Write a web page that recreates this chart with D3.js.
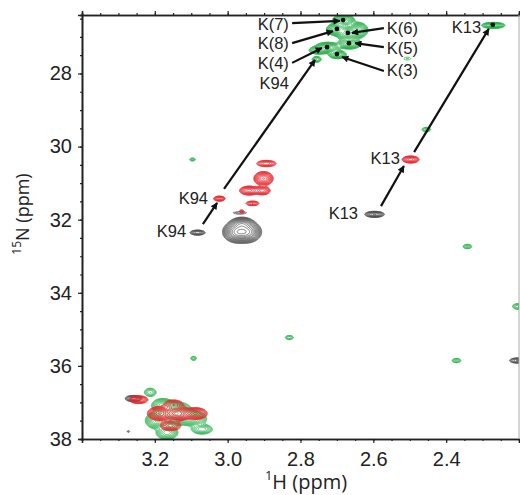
<!DOCTYPE html>
<html lang="en">
<head>
<meta charset="UTF-8">
<title>1H-15N lysine spectrum</title>
<style>
  body { margin: 0; background: #fff; }
  svg { font-family: 'Open Sans', 'Noto Sans', sans-serif; }
  .axis text { fill: #222; }
  .lab { font-family: 'Liberation Sans', Arial, sans-serif; }
</style>
</head>
<body>
<svg id="chart" width="520" height="495"></svg>
<script src="https://d3js.org/d3.v7.min.js"></script>
<script>
// axis ticks
const xTicks = [3.2, 3.0, 2.8, 2.6, 2.4];
const yTicks = [28, 30, 32, 34, 36, 38];

// peaks: [1H ppm, 15N ppm, height, 1H width, 15N width]
const blackPeaks = [
  [2.598, 31.84, 0.7, 0.013, 0.04],
  [3.084, 32.34, 0.5, 0.011, 0.036],
  [2.975, 32.32, 2.0, 0.016, 0.12],
  [2.948, 32.32, 1.8, 0.016, 0.12],
  [2.962, 32.10, 1.0, 0.014, 0.08],
  [2.968, 31.80, 0.14, 0.018, 0.03],
  [2.206, 35.84, 0.4, 0.012, 0.04],
  [3.260, 36.88, 0.5, 0.012, 0.045],
  [3.274, 37.78, 0.12, 0.004, 0.03]
];
const greenPeaks = [
  [2.683, 26.54, 2.0, 0.012, 0.07],
  [2.700, 26.78, 2.0, 0.012, 0.07],
  [2.670, 26.89, 2.5, 0.013, 0.08],
  [2.645, 26.80, 1.5, 0.012, 0.09],
  [2.667, 27.17, 1.8, 0.013, 0.06],
  [2.727, 27.28, 1.8, 0.014, 0.06],
  [2.752, 27.35, 0.8, 0.012, 0.05],
  [2.700, 27.47, 1.0, 0.011, 0.05],
  [2.757, 27.60, 0.4, 0.007, 0.045],
  [2.272, 26.67, 1.2, 0.014, 0.035],
  [3.098, 30.34, 0.2, 0.006, 0.03],
  [2.456, 29.52, 0.25, 0.008, 0.04],
  [2.508, 27.58, 0.11, 0.012, 0.05],
  [2.343, 32.72, 0.25, 0.008, 0.04],
  [2.203, 34.36, 0.3, 0.01, 0.05],
  [2.373, 35.84, 0.25, 0.008, 0.04],
  [2.832, 35.21, 0.22, 0.008, 0.04],
  [3.095, 35.78, 0.2, 0.006, 0.04],
  [3.145, 37.29, 2.0, 0.02, 0.13],
  [3.195, 37.48, 1.2, 0.014, 0.1],
  [3.095, 37.43, 1.0, 0.016, 0.09],
  [3.180, 37.07, 0.8, 0.014, 0.09],
  [3.168, 37.81, 0.8, 0.014, 0.09],
  [3.072, 37.72, 0.5, 0.015, 0.07],
  [3.214, 36.71, 0.3, 0.01, 0.07]
];
const redPeaks = [
  [2.499, 30.34, 0.8, 0.011, 0.045],
  [3.024, 31.41, 0.6, 0.008, 0.034],
  [2.895, 30.45, 0.5, 0.014, 0.045],
  [2.903, 30.86, 1.5, 0.011, 0.08],
  [2.942, 31.19, 1.0, 0.012, 0.055],
  [2.906, 31.19, 0.8, 0.01, 0.055],
  [2.933, 31.54, 0.4, 0.01, 0.035],
  [2.963, 31.76, 0.2, 0.005, 0.03],
  [3.246, 36.91, 0.8, 0.012, 0.05],
  [3.188, 37.29, 1.5, 0.014, 0.08],
  [3.138, 37.29, 1.8, 0.014, 0.08],
  [3.090, 37.29, 1.2, 0.014, 0.07],
  [3.158, 37.62, 0.6, 0.014, 0.07],
  [3.150, 37.05, 0.5, 0.014, 0.07]
];

// assigned peak dots
const dots = [
  [2.683, 26.54], [2.700, 26.78], [2.670, 26.89], [2.667, 27.17],
  [2.727, 27.28], [2.700, 27.47], [2.272, 26.67]
];

// labels: [text, 1H, 15N, anchor]
const labels = [
  ['K(7)', 2.832, 26.65, 'end'],
  ['K(8)', 2.832, 27.17, 'end'],
  ['K(4)', 2.832, 27.71, 'end'],
  ['K94', 2.832, 28.26, 'end'],
  ['K(6)', 2.563, 26.76, 'start'],
  ['K(5)', 2.563, 27.30, 'start'],
  ['K(3)', 2.563, 27.90, 'start'],
  ['K13', 2.304, 26.73, 'end'],
  ['K13', 2.527, 30.31, 'end'],
  ['K13', 2.642, 31.82, 'end'],
  ['K94', 3.054, 31.41, 'end'],
  ['K94', 3.114, 32.31, 'end']
];

// arrows: [1H from, 15N from, 1H to, 15N to]
const arrows = [
  [2.823, 26.62, 2.692, 26.56],
  [2.823, 27.17, 2.711, 26.84],
  [2.823, 27.71, 2.741, 27.30],
  [3.010, 31.16, 2.760, 27.63],
  [3.068, 32.12, 3.029, 31.54],
  [2.571, 26.76, 2.659, 26.89],
  [2.571, 27.28, 2.650, 27.17],
  [2.571, 27.93, 2.686, 27.55],
  [2.579, 31.63, 2.516, 30.53],
  [2.488, 30.15, 2.283, 26.78]
];

const svg = d3.select('#chart');
const mLeft = 82, mRight = 519, mTop = 15, mBottom = 439;
const x = d3.scaleLinear().domain([3.4, 2.2]).range([mLeft, mRight]);
const y = d3.scaleLinear().domain([26.4, 38.0]).range([mTop, mBottom]);

const defs = svg.append('defs');
defs.append('clipPath').attr('id', 'plot')
  .append('rect').attr('x', mLeft).attr('y', mTop)
  .attr('width', mRight - mLeft).attr('height', mBottom - mTop);

const W = mRight - mLeft, H = mBottom - mTop;
const levels = d3.range(14).map(i => 0.08 * Math.pow(1.3, i));

function drawSpectrum(peaks, color) {
  const values = new Float64Array(W * H);
  peaks.forEach(([px, py, a, wx, wy]) => {
    const cx = x(px) - mLeft, cy = y(py) - mTop;
    const sx = Math.abs(x(px + wx) - x(px)), sy = Math.abs(y(py + wy) - y(py));
    const i0 = Math.max(0, Math.floor(cx - 5 * sx)), i1 = Math.min(W - 1, Math.ceil(cx + 5 * sx));
    const j0 = Math.max(0, Math.floor(cy - 5 * sy)), j1 = Math.min(H - 1, Math.ceil(cy + 5 * sy));
    for (let j = j0; j <= j1; j++) {
      const dy = (j - cy) / sy;
      for (let i = i0; i <= i1; i++) {
        const dx = (i - cx) / sx;
        values[j * W + i] += a * Math.exp(-0.5 * (dx * dx + dy * dy));
      }
    }
  });
  const contours = d3.contours().size([W, H]).thresholds(levels)(values);
  svg.append('g')
    .attr('clip-path', 'url(#plot)')
    .append('g')
    .attr('transform', `translate(${mLeft},${mTop})`)
    .selectAll('path')
    .data(contours)
    .join('path')
    .attr('d', d3.geoPath())
    .attr('fill', 'none')
    .attr('stroke', color)
    .attr('stroke-width', 0.8)
    .attr('stroke-opacity', 0.9);
}

drawSpectrum(blackPeaks, '#4a4a4a');
drawSpectrum(greenPeaks, '#25b04a');
drawSpectrum(redPeaks, '#e8262b');

// arrowhead
defs.append('marker')
  .attr('id', 'head')
  .attr('viewBox', '0 0 10 10')
  .attr('refX', 9).attr('refY', 5)
  .attr('markerWidth', 9).attr('markerHeight', 7)
  .attr('markerUnits', 'userSpaceOnUse')
  .attr('orient', 'auto')
  .append('path').attr('d', 'M0,0L10,5L0,10Z').attr('fill', '#111');

svg.append('g').selectAll('line')
  .data(arrows)
  .join('line')
  .attr('x1', d => x(d[0])).attr('y1', d => y(d[1]))
  .attr('x2', d => x(d[2])).attr('y2', d => y(d[3]))
  .attr('stroke', '#111')
  .attr('stroke-width', 2.2)
  .attr('marker-end', 'url(#head)');

svg.append('g').selectAll('circle')
  .data(dots)
  .join('circle')
  .attr('cx', d => x(d[0])).attr('cy', d => y(d[1]))
  .attr('r', 2.4)
  .attr('fill', '#111');

svg.append('g').selectAll('text')
  .data(labels)
  .join('text')
  .attr('class', 'lab')
  .attr('x', d => x(d[1])).attr('y', d => y(d[2]))
  .attr('dy', '0.36em')
  .attr('text-anchor', d => d[3])
  .style('font-size', '16.5px')
  .style('fill', '#222')
  .text(d => d[0]);

// axes
const minorX = x.ticks(24), minorY = y.ticks(23);

function axisStyle(g) {
  g.selectAll('.domain').attr('stroke', '#222').attr('stroke-width', 1.6);
  g.selectAll('.tick line').attr('stroke', '#222').attr('stroke-width', 1.2);
  g.selectAll('.tick text').style('font-size', '20px');
}

svg.append('g').attr('class', 'axis')
  .attr('transform', `translate(0,${mBottom})`)
  .call(d3.axisBottom(x).tickValues(minorX).tickSize(2).tickFormat(''))
  .call(axisStyle);
svg.append('g').attr('class', 'axis')
  .attr('transform', `translate(0,${mBottom})`)
  .call(d3.axisBottom(x).tickValues(xTicks).tickSize(4).tickPadding(9).tickFormat(d3.format('.1f')))
  .call(axisStyle);

svg.append('g').attr('class', 'axis')
  .attr('transform', `translate(0,${mTop})`)
  .call(d3.axisTop(x).tickValues(minorX).tickSize(2).tickFormat(''))
  .call(axisStyle);
svg.append('g').attr('class', 'axis')
  .attr('transform', `translate(0,${mTop})`)
  .call(d3.axisTop(x).tickValues(xTicks).tickSize(4).tickFormat(''))
  .call(axisStyle);

svg.append('g').attr('class', 'axis')
  .attr('transform', `translate(${mLeft},0)`)
  .call(d3.axisLeft(y).tickValues(minorY).tickSize(2).tickFormat(''))
  .call(axisStyle);
svg.append('g').attr('class', 'axis')
  .attr('transform', `translate(${mLeft},0)`)
  .call(d3.axisLeft(y).tickValues(yTicks).tickSize(4).tickPadding(6))
  .call(axisStyle);

svg.append('line')
  .attr('x1', mRight).attr('x2', mRight).attr('y1', mTop).attr('y2', mBottom)
  .attr('stroke', '#aaa').attr('stroke-width', 1);

// axis titles
const xt = svg.append('text')
  .attr('x', 306).attr('y', 486)
  .attr('text-anchor', 'middle')
  .style('font-size', '20px').style('fill', '#222');
xt.append('tspan').attr('dy', '-0.45em').style('font-size', '13px').text('1');
xt.append('tspan').attr('dy', '0.45em').text('H (ppm)');

const yt = svg.append('text')
  .attr('transform', 'translate(26,214) rotate(-90)')
  .attr('text-anchor', 'middle')
  .style('font-size', '18px').style('fill', '#222');
yt.append('tspan').attr('dy', '-0.45em').style('font-size', '12px').text('15');
yt.append('tspan').attr('dy', '0.45em').text('N (ppm)');
</script>
</body>
</html>
